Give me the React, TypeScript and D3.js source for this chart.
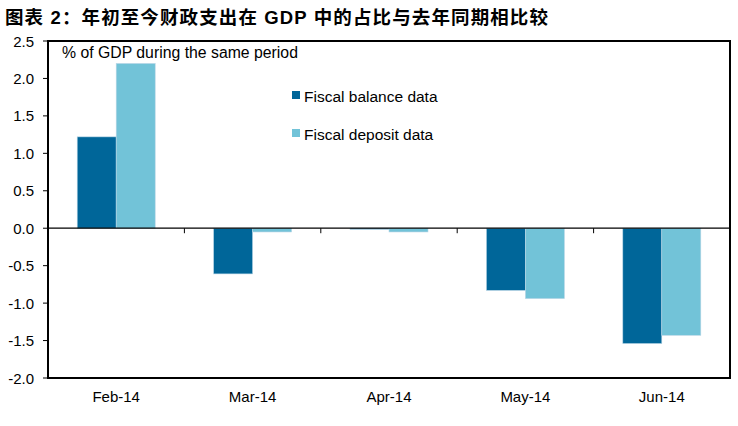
import React from "react";
import * as d3 from "d3";

const categories = ["Feb-14", "Mar-14", "Apr-14", "May-14", "Jun-14"];
const fiscalBalance = [1.22, -0.61, -0.015, -0.83, -1.54];
const fiscalDeposit = [2.2, -0.05, -0.05, -0.94, -1.43];
const yTicks = [2.5, 2.0, 1.5, 1.0, 0.5, 0.0, -0.5, -1.0, -1.5, -2.0];
const seriesNames = ["Fiscal balance data", "Fiscal deposit data"];
const colors = ["#006699", "#72C3D8"];

const W = 738;
const H = 426;
const left = 48;
const right = 730;
const top = 41;
const bottom = 378;
const font = "'Liberation Sans', Arial, 'Noto Sans CJK SC', sans-serif";

export default function App() {
  const x = d3.scaleBand<string>().domain(categories).range([left, right]);
  const y = d3.scaleLinear().domain([-2, 2.5]).range([bottom, top]);
  const barW = 39;
  const series = [fiscalBalance, fiscalDeposit];
  const y0 = y(0);

  return (
    <svg width={W} height={H} style={{ position: "absolute", left: 0, top: 0, background: "#fff" }}>
      <text
        x={5}
        y={24}
        fontFamily={font}
        fontWeight="bold"
        fontSize={18.5}
        fill="#000"
        textLength={543}
        lengthAdjust="spacing"
      >
        图表 2：年初至今财政支出在 GDP 中的占比与去年同期相比较
      </text>
      {/* bars */}
      {series.map((vals, si) =>
        vals.map((v, i) => {
          const cx = (x(categories[i]) as number) + x.bandwidth() / 2;
          const bx = cx - barW + si * barW;
          const yy = Math.min(y(v), y0);
          const h = Math.abs(y(v) - y0);
          return (
            <rect
              key={`${si}-${i}`}
              x={bx}
              y={yy}
              width={barW}
              height={Math.max(h, 1)}
              fill={colors[si]}
              stroke="#b9d6e6"
              strokeWidth={0.6}
            />
          );
        })
      )}
      {/* zero line */}
      <line x1={left} x2={right} y1={y0} y2={y0} stroke="#000" strokeWidth={1.2} />
      {categories.slice(1).map((c) => (
        <line
          key={c}
          x1={x(c) as number}
          x2={x(c) as number}
          y1={y0}
          y2={y0 + 5}
          stroke="#000"
          strokeWidth={1}
        />
      ))}
      {/* frame */}
      <rect x={left} y={top} width={right - left} height={bottom - top} fill="none" stroke="#000" strokeWidth={2} />
      {/* y ticks */}
      {yTicks.map((t) => (
        <g key={t}>
          <line x1={left - 5} x2={left} y1={y(t)} y2={y(t)} stroke="#000" strokeWidth={1} />
          <text x={34} y={y(t) + 5.5} textAnchor="end" fontFamily={font} fontSize={15} fill="#000">
            {t.toFixed(1)}
          </text>
        </g>
      ))}
      {/* x labels */}
      {categories.map((c) => (
        <text
          key={c}
          x={(x(c) as number) + x.bandwidth() / 2}
          y={402}
          textAnchor="middle"
          fontFamily={font}
          fontSize={15}
          fill="#000"
        >
          {c}
        </text>
      ))}
      <text x={62} y={58} fontFamily={font} fontSize={15.8} fill="#000">
        % of GDP during the same period
      </text>
      {/* legend */}
      {seriesNames.map((n, i) => (
        <g key={n}>
          <rect x={292} y={91 + i * 38} width={8} height={8} fill={colors[i]} />
          <text x={304} y={102 + i * 38} fontFamily={font} fontSize={15.5} fill="#000">
            {n}
          </text>
        </g>
      ))}
    </svg>
  );
}
